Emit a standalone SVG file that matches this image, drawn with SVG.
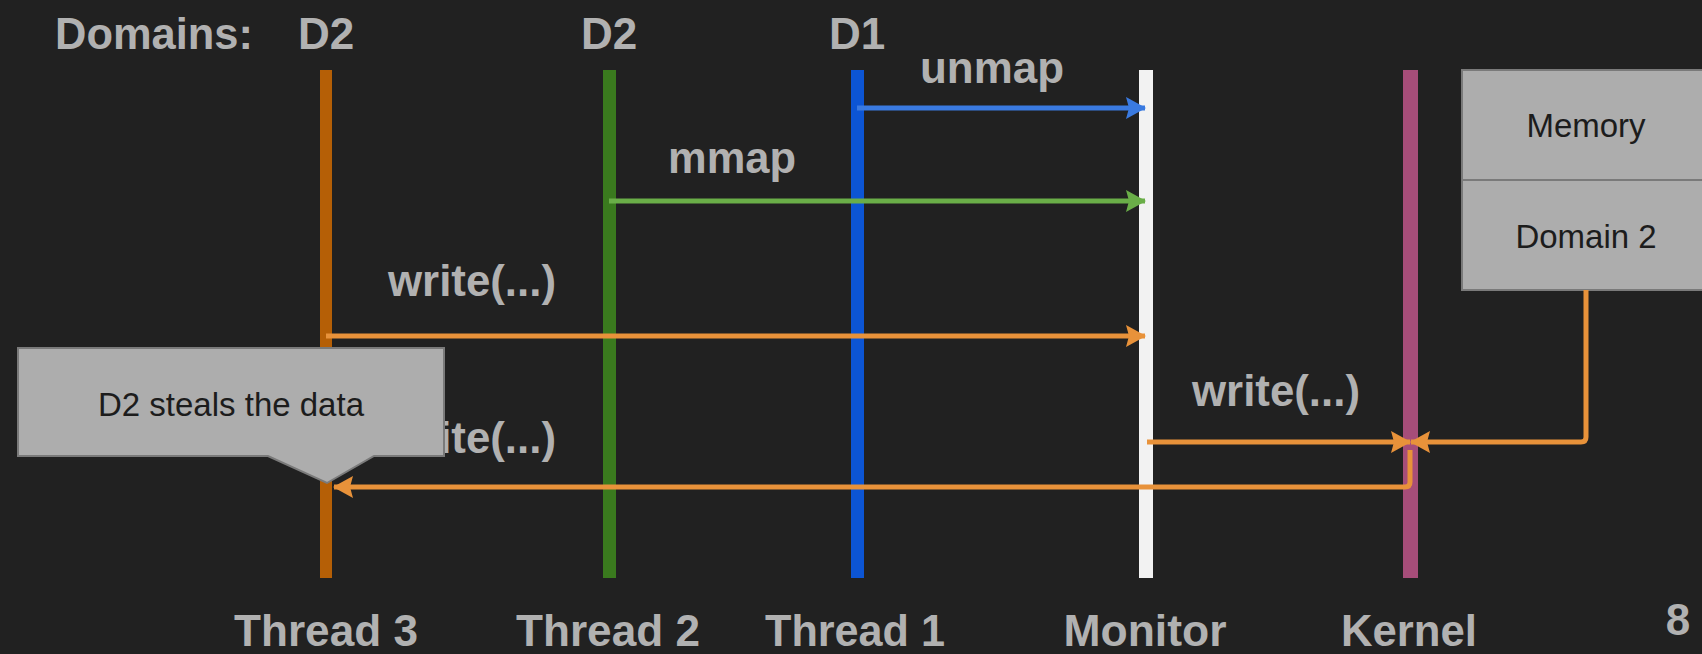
<svg xmlns="http://www.w3.org/2000/svg" width="1702" height="654" viewBox="0 0 1702 654">
<style>
.lbl{font-family:"Liberation Sans",Arial,sans-serif;font-weight:bold;font-size:44px;fill:#b1b1b1}
.box{fill:#adadad;stroke:#7a7a7a;stroke-width:2}
.btxt{font-family:"Liberation Sans",Arial,sans-serif;font-size:33px;fill:#1c1c1c;text-anchor:middle}
.ar{fill:none;stroke-width:5;stroke-linejoin:round}
</style>
<defs>
<marker id="hb" markerUnits="userSpaceOnUse" markerWidth="20" markerHeight="22" refX="19" refY="11" orient="auto"><path d="M0,0 L20,11 L0,22 L3,11 z" fill="#3a7ae0"/></marker>
<marker id="hg" markerUnits="userSpaceOnUse" markerWidth="20" markerHeight="22" refX="19" refY="11" orient="auto"><path d="M0,0 L20,11 L0,22 L3,11 z" fill="#6aae48"/></marker>
<marker id="ho" markerUnits="userSpaceOnUse" markerWidth="20" markerHeight="22" refX="19" refY="11" orient="auto"><path d="M0,0 L20,11 L0,22 L3,11 z" fill="#e8923a"/></marker>
</defs>
<rect width="1702" height="654" fill="#212121"/>
<g id="title">
<text class="lbl" x="55" y="49" textLength="198" lengthAdjust="spacingAndGlyphs">Domains:</text>
</g>
<g id="thread3">
<text class="lbl" x="326" y="49" text-anchor="middle">D2</text>
<rect x="320" y="70" width="12" height="508" fill="#b55f06"/>
<text class="lbl" x="326" y="646" text-anchor="middle" textLength="184" lengthAdjust="spacingAndGlyphs">Thread 3</text>
</g>
<g id="thread2">
<text class="lbl" x="609" y="49" text-anchor="middle">D2</text>
<rect x="603" y="70" width="13" height="508" fill="#3a7a1e"/>
<text class="lbl" x="608" y="646" text-anchor="middle" textLength="184" lengthAdjust="spacingAndGlyphs">Thread 2</text>
</g>
<g id="thread1">
<text class="lbl" x="857" y="49" text-anchor="middle">D1</text>
<rect x="851" y="70" width="13" height="508" fill="#0c55d4"/>
<text class="lbl" x="855" y="646" text-anchor="middle" textLength="180" lengthAdjust="spacingAndGlyphs">Thread 1</text>
</g>
<g id="monitor">
<rect x="1139" y="70" width="14" height="508" fill="#f2f2f2"/>
<text class="lbl" x="1145" y="646" text-anchor="middle" textLength="163" lengthAdjust="spacingAndGlyphs">Monitor</text>
</g>
<g id="kernel">
<rect x="1403" y="70" width="15" height="508" fill="#a64d79"/>
<text class="lbl" x="1409" y="646" text-anchor="middle" textLength="136" lengthAdjust="spacingAndGlyphs">Kernel</text>
</g>
<g id="memory">
<rect class="box" x="1462" y="70" width="250" height="220"/>
<line x1="1462" y1="180" x2="1702" y2="180" stroke="#7a7a7a" stroke-width="2"/>
<text class="btxt" x="1586" y="137">Memory</text>
<text class="btxt" x="1586" y="248">Domain 2</text>
</g>
<g id="connectors">
<line class="ar" x1="857" y1="108" x2="1145" y2="108" stroke="#3a7ae0" marker-end="url(#hb)"/>
<text class="lbl" x="920" y="83" textLength="144" lengthAdjust="spacingAndGlyphs">unmap</text>
<line class="ar" x1="609" y1="201" x2="1145" y2="201" stroke="#6aae48" marker-end="url(#hg)"/>
<text class="lbl" x="668" y="173" textLength="128" lengthAdjust="spacingAndGlyphs">mmap</text>
<line class="ar" x1="326" y1="336" x2="1145" y2="336" stroke="#e8923a" marker-end="url(#ho)"/>
<text class="lbl" x="388" y="296" textLength="168" lengthAdjust="spacingAndGlyphs">write(...)</text>
<text class="lbl" x="388" y="453" textLength="168" lengthAdjust="spacingAndGlyphs">write(...)</text>
<line class="ar" x1="1147" y1="442" x2="1410" y2="442" stroke="#e8923a" marker-end="url(#ho)"/>
<text class="lbl" x="1192" y="406" textLength="168" lengthAdjust="spacingAndGlyphs">write(...)</text>
<path class="ar" d="M1586,290 L1586,437 Q1586,442 1581,442 L1411,442" stroke="#e8923a" marker-end="url(#ho)"/>
<path class="ar" d="M1410,450 L1410,482 Q1410,487 1405,487 L334,487" stroke="#e8923a" marker-end="url(#ho)"/>
</g>
<g id="callout">
<path class="box" d="M18,348 L444,348 L444,456 L374,456 L327,483 L268,456 L18,456 z"/>
<text class="btxt" x="231" y="416">D2 steals the data</text>
</g>
<g id="page">
<text class="lbl" x="1678" y="635" text-anchor="middle">8</text>
</g>
</svg>
